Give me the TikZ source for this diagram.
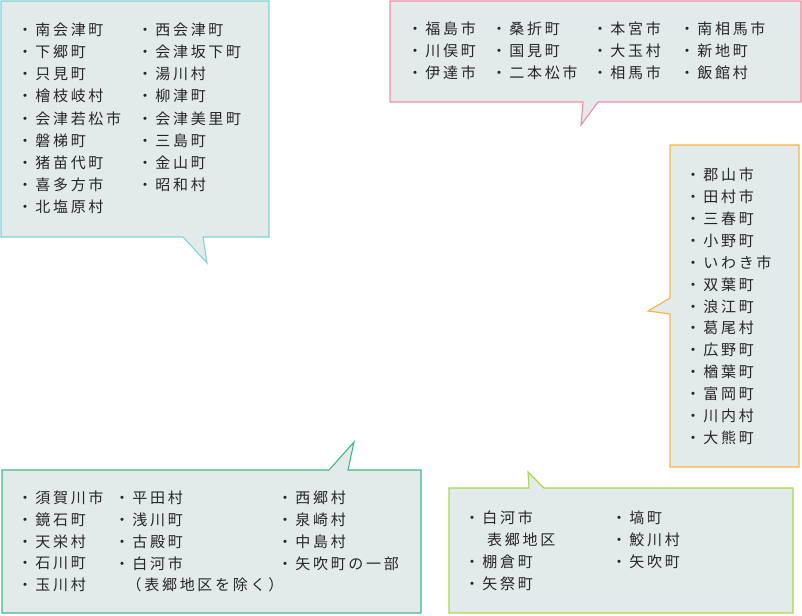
\documentclass[tikz,border=0pt]{standalone}
\usepackage{fontspec}
\newfontfamily\jp{Noto Sans CJK JP}[LetterSpace=18]
\definecolor{boxfill}{HTML}{E3EAEA}
\definecolor{txt}{HTML}{262626}
\definecolor{bcyan}{HTML}{80D2DC}
\definecolor{bpink}{HTML}{F28CA0}
\definecolor{borange}{HTML}{F8B24A}
\definecolor{bgreen}{HTML}{3DBB85}
\definecolor{blime}{HTML}{A8D94A}
\begin{document}
\begin{tikzpicture}[x=1pt,y=-1pt,
  balloon/.style={fill=boxfill,line width=1.1pt,line join=miter},
  item/.style={anchor=west,inner sep=0pt,text=txt,font=\jp\fontsize{15}{18}\selectfont}]
\useasboundingbox (0,0) rectangle (802,615);
% balloons
\draw[balloon,draw=bcyan] (1,1) -- (269,1) -- (269,237) -- (203,237) -- (207,263) -- (183,237) -- (1,237) -- cycle;
\draw[balloon,draw=bpink] (390,1) -- (801,1) -- (801,102) -- (598,102) -- (581,125) -- (583,102) -- (390,102) -- cycle;
\draw[balloon,draw=borange] (670,145) -- (799,145) -- (799,467) -- (670,467) -- (670,314) -- (648,311) -- (670,298) -- cycle;
\draw[balloon,draw=bgreen] (2,470) -- (329,470) -- (354,442) -- (348,470) -- (421,470) -- (421,613) -- (2,613) -- cycle;
\draw[balloon,draw=blime] (449,488) -- (529,488) -- (528,472) -- (544,488) -- (793,488) -- (793,613) -- (449,613) -- cycle;
% box 1
\foreach \t [count=\i from 0] in {南会津町,下郷町,只見町,檜枝岐村,会津若松市,磐梯町,猪苗代町,喜多方市,北塩原村}
  \node[item] (a1\i) at (17.5,{30+22.1*\i}) {・\t};
\foreach \t [count=\i from 0] in {西会津町,会津坂下町,湯川村,柳津町,会津美里町,三島町,金山町,昭和村}
  \node[item] (a2\i) at (137.5,{30+22.1*\i}) {・\t};
% box 2
\foreach \t [count=\i from 0] in {福島市,川俣町,伊達市}
  \node[item] (b1\i) at (407.5,{29+22*\i}) {・\t};
\foreach \t [count=\i from 0] in {桑折町,国見町,二本松市}
  \node[item] (b2\i) at (491.5,{29+22*\i}) {・\t};
\foreach \t [count=\i from 0] in {本宮市,大玉村,相馬市}
  \node[item] (b3\i) at (592.5,{29+22*\i}) {・\t};
\foreach \t [count=\i from 0] in {南相馬市,新地町,飯館村}
  \node[item] (b4\i) at (679.5,{29+22*\i}) {・\t};
% box 3
\foreach \t [count=\i from 0] in {郡山市,田村市,三春町,小野町,いわき市,双葉町,浪江町,葛尾村,広野町,楢葉町,富岡町,川内村,大熊町}
  \node[item] (c\i) at (685.5,{175+21.9*\i}) {・\t};
% box 4
\foreach \t [count=\i from 0] in {須賀川市,鏡石町,天栄村,石川町,玉川村}
  \node[item] (d1\i) at (17.5,{498+21.8*\i}) {・\t};
\foreach \t [count=\i from 0] in {平田村,浅川町,古殿町,白河市}
  \node[item] (d2\i) at (114.5,{498+21.8*\i}) {・\t};
\node[item] (d2x) at (126.5,{498+21.8*4}) {（表郷地区を除く）};
\foreach \t [count=\i from 0] in {西郷村,泉崎村,中島村,矢吹町の一部}
  \node[item] (d3\i) at (277.5,{498+21.8*\i}) {・\t};
% box 5
\node[item] (e10) at (464.5,518) {・白河市};
\node[item] (e11) at (487,540) {表郷地区};
\node[item] (e12) at (464.5,562) {・棚倉町};
\node[item] (e13) at (464.5,584) {・矢祭町};
\foreach \t [count=\i from 0] in {塙町,鮫川村,矢吹町}
  \node[item] (e2\i) at (611.5,{518+22*\i}) {・\t};
\end{tikzpicture}
\end{document}
